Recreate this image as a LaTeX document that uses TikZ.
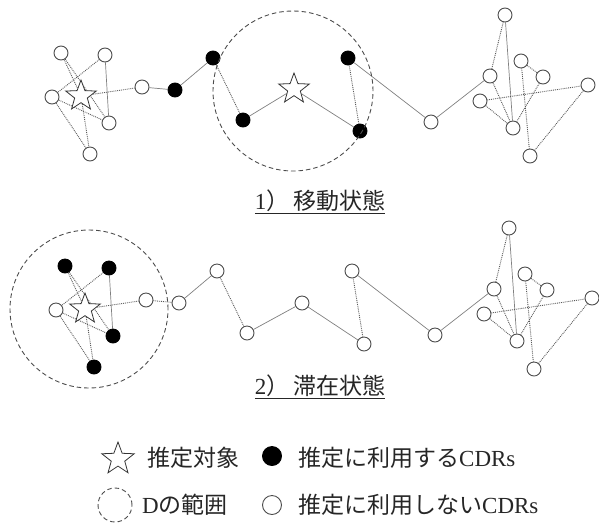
\documentclass[tikz,border=0pt]{standalone}
\usepackage{fontspec}
\setmainfont{Liberation Serif}
\newfontfamily\cjk{Noto Sans CJK JP}
\usetikzlibrary{shapes.geometric,backgrounds}
\begin{document}
\begin{tikzpicture}[x=1pt,y=-1pt,
 wn/.style={circle,draw=black!70,fill=white,line width=0.9pt,minimum size=14pt,inner sep=0pt},
 bn/.style={circle,draw=black,fill=black,line width=0.9pt,minimum size=14pt,inner sep=0pt},
 st/.style={star,star points=5,star point ratio=2.4,draw=black!80,fill=white,line width=0.8pt,minimum size=32pt,inner sep=0pt},
 sl/.style={draw=black!50,line width=0.7pt},
 dl/.style={draw=black!65,line width=0.9pt,densely dotted},
 rng/.style={circle,draw=black!70,line width=0.9pt,dash pattern=on 4.5pt off 3pt,inner sep=0pt},
 lbl/.style={font=\fontsize{23}{23}\selectfont,inner sep=0pt,text=black!85},
]
\useasboundingbox (0,0) rectangle (599,523);
% ---------- panel 1 ----------
\node[wn] (A) at (61,53) {};
\node[wn] (B) at (105,55) {};
\node[wn] (C) at (52,97) {};
\node[st] (S1) at (81,96) {};
\node[wn] (D) at (109,123) {};
\node[wn] (E) at (90,154) {};
\node[wn] (F) at (142,87) {};
\node[bn] (G) at (175,90) {};
\node[bn] (H) at (213,58) {};
\node[bn] (I) at (243,120) {};
\node[st] (X) at (294,89) {};
\node[bn] (J) at (348,58) {};
\node[bn] (K) at (360,131) {};
\node[wn] (L) at (431,122) {};
\node[wn] (M) at (490,76) {};
\node[wn] (N) at (505,15) {};
\node[wn] (O) at (521,61) {};
\node[wn] (P) at (543,77) {};
\node[wn] (Q) at (588,85) {};
\node[wn] (R) at (480,101) {};
\node[wn] (S) at (513,128) {};
\node[wn] (T) at (530,156) {};
\node[rng,minimum size=160pt] (D1) at (293,91) {};
\begin{scope}[on background layer]
\draw[dl] (A) -- (S1); \draw[dl] (A) -- (D); \draw[dl] (B) -- (C);
\draw[sl] (B) -- (D); \draw[dl] (C) -- (D); \draw[dl] (C) -- (E);
\draw[dl] (S1) -- (E); \draw[dl] (S1) -- (F);
\draw[sl] (F) -- (G); \draw[sl] (G) -- (H); \draw[dl] (H) -- (I);
\draw[sl] (I) -- (X); \draw[sl] (X) -- (K); \draw[dl] (K) -- (J);
\draw[sl] (J) -- (L); \draw[sl] (L) -- (M); \draw[dl] (M) -- (N);
\draw[sl] (N) -- (S); \draw[dl] (M) -- (S); \draw[dl] (O) -- (T);
\draw[dl] (O) -- (P); \draw[dl] (P) -- (S); \draw[dl] (R) -- (Q);
\draw[dl] (R) -- (S); \draw[dl] (Q) -- (T);
\end{scope}
\node[lbl] (lab1) at (320,202) {$\underline{\hbox{1{\cjk ）\kern4pt 移動状態}}}$};
% ---------- panel 2 ----------
\node[bn] (A2) at (65,266) {};
\node[bn] (B2) at (109,268) {};
\node[wn] (C2) at (56,310) {};
\node[st] (S2) at (85,309) {};
\node[bn] (D2) at (113,336) {};
\node[bn] (E2) at (94,367) {};
\node[wn] (F2) at (146,300) {};
\node[wn] (G2) at (179,303) {};
\node[wn] (H2) at (217,271) {};
\node[wn] (I2) at (247,333) {};
\node[wn] (X2) at (302,303) {};
\node[wn] (J2) at (352,271) {};
\node[wn] (K2) at (364,344) {};
\node[wn] (L2) at (435,335) {};
\node[wn] (M2) at (494,289) {};
\node[wn] (N2) at (509,228) {};
\node[wn] (O2) at (525,274) {};
\node[wn] (P2) at (547,290) {};
\node[wn] (Q2) at (592,298) {};
\node[wn] (R2) at (484,314) {};
\node[wn] (S2b) at (517,341) {};
\node[wn] (T2) at (534,369) {};
\node[rng,minimum size=158pt] (D2c) at (89,309) {};
\begin{scope}[on background layer]
\draw[dl] (A2) -- (S2); \draw[dl] (A2) -- (D2); \draw[dl] (B2) -- (C2);
\draw[sl] (B2) -- (D2); \draw[dl] (C2) -- (D2); \draw[dl] (C2) -- (E2);
\draw[dl] (S2) -- (E2); \draw[dl] (S2) -- (F2);
\draw[dl] (F2) -- (G2); \draw[sl] (G2) -- (H2); \draw[dl] (H2) -- (I2);
\draw[sl] (I2) -- (X2); \draw[sl] (X2) -- (K2); \draw[dl] (K2) -- (J2);
\draw[sl] (J2) -- (L2); \draw[sl] (L2) -- (M2); \draw[dl] (M2) -- (N2);
\draw[sl] (N2) -- (S2b); \draw[dl] (M2) -- (S2b); \draw[dl] (O2) -- (T2);
\draw[dl] (O2) -- (P2); \draw[dl] (P2) -- (S2b); \draw[dl] (R2) -- (Q2);
\draw[dl] (R2) -- (S2b); \draw[dl] (Q2) -- (T2);
\end{scope}
\node[lbl] (lab2) at (320,387) {$\underline{\hbox{2{\cjk ）\kern4pt 滞在状態}}}$};
% ---------- legend ----------
\node[st,minimum size=34pt] (ls) at (118,459) {};
\node[lbl,anchor=west] (lt1) at (147,458) {{\cjk 推定対象}};
\node[bn,minimum size=19pt] (lb) at (272,456) {};
\node[lbl,anchor=west] (lt2) at (298,458) {{\cjk 推定に利用する}CDRs};
\node[rng,minimum size=34pt] (lr) at (115,505) {};
\node[lbl,anchor=west] (lt3) at (142,505) {D{\cjk の範囲}};
\node[wn,minimum size=19pt] (lw) at (272,505) {};
\node[lbl,anchor=west] (lt4) at (298,505) {{\cjk 推定に利用しない}CDRs};
\end{tikzpicture}
\end{document}
